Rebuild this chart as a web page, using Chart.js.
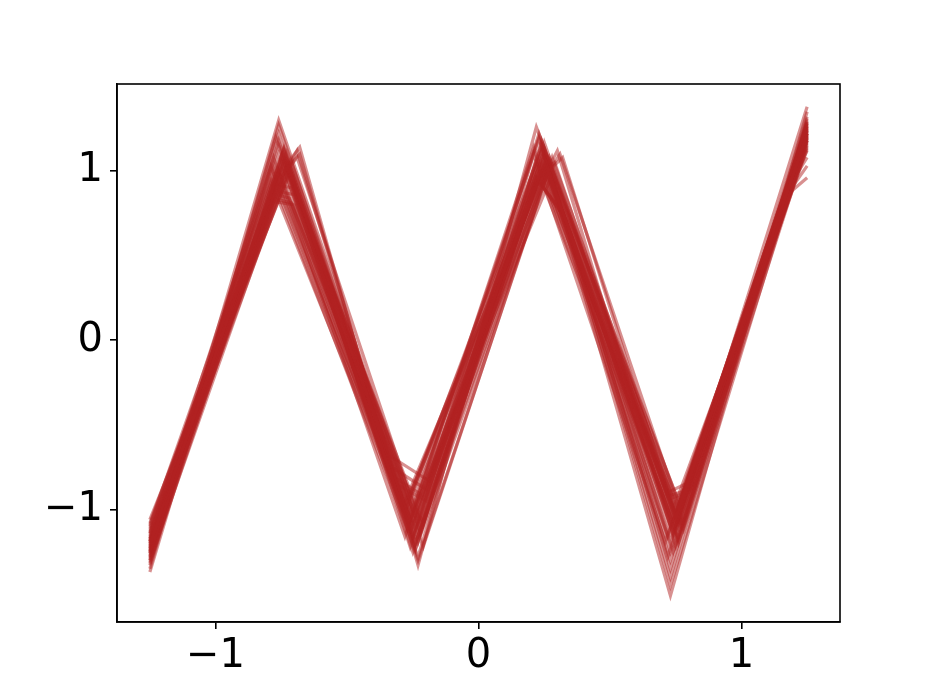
<!DOCTYPE html>
<html>
<head>
<meta charset="utf-8">
<script src="https://cdn.jsdelivr.net/npm/chart.js@4/dist/chart.umd.min.js"></script>
<style>
  html, body { margin: 0; padding: 0; background: #fff; }
  #wrap { width: 934px; height: 700px; position: relative; }
</style>
</head>
<body>
<div id="wrap"><canvas id="chart"></canvas></div>
<script>
// tick positions
const xTicks = [-1, 0, 1];
const yTicks = [-1, 0, 1];

// each curve is a piecewise linear path; knots (null = no knot)
const startX = -1.25;
const startY = [-1.21, -1.18, -1.25, -1.30, -1.15, -1.22, -1.10, -1.28, -1.35, -1.19, -1.24, -1.12, -1.27, -1.20, -1.32, -1.16,
                -1.23, -1.06, -1.29, -1.14, -1.26, -1.21, -1.37, -1.17, -1.25, -1.11, -1.31, -1.19, -1.22, -1.08, -1.28, -1.24,
                -1.18, -1.26, -1.13, -1.33, -1.20, -1.09, -1.23, -1.17, -1.30, -1.14, -1.25, -1.19];

const peak1X = [-0.75, -0.76, -0.74, -0.76, -0.72, -0.77, -0.74, -0.76, -0.76, -0.75, -0.78, -0.73, -0.76, -0.74, -0.77, -0.79,
                -0.76, -0.72, -0.77, -0.74, -0.75, -0.78, -0.76, -0.75, -0.73, -0.76, -0.75, -0.77, -0.71, -0.76, -0.74, -0.78,
                -0.73, -0.78, -0.72, -0.77, -0.74, -0.79, -0.73, -0.76, -0.72, -0.78, -0.74, -0.73];
const peak1Y = [1.05, 1.10, 0.98, 1.30, 1.02, 0.88, 1.08, 1.22, 1.27, 1.00, 0.84, 1.06, 0.95, 1.12, 0.90, 1.03,
                1.15, 0.98, 0.86, 1.07, 1.01, 0.82, 1.18, 0.96, 1.04, 1.00, 1.09, 0.92, 1.05, 0.97, 1.13, 1.02,
                1.03, 1.08, 0.99, 1.20, 1.06, 0.94, 1.11, 1.00, 1.04, 0.97, 1.14, 1.01];
const shoulder1X = [null, null, -0.69, null, null, -0.70, null, null, null, -0.68, -0.71, null, null, null, null, null,
                    null, null, -0.72, null, null, -0.70, null, -0.69, null, null, null, -0.71, null, -0.68, null, null,
                    null, null, null, null, null, null, null, null, null, null, null, null];
const shoulder1Y = [null, null, 1.12, null, null, 0.86, null, null, null, 1.14, 0.81, null, null, null, null, null,
                    null, null, 0.84, null, null, 0.80, null, 1.08, null, null, null, 0.90, null, 1.10, null, null,
                    null, null, null, null, null, null, null, null, null, null, null, null];

const trough1X = [-0.25, -0.26, -0.24, -0.25, -0.28, -0.25, -0.22, -0.26, -0.25, -0.23, -0.25, -0.27, -0.24, -0.25, -0.23, -0.28,
                  -0.26, -0.22, -0.33, -0.24, -0.25, -0.33, -0.25, -0.26, -0.24, -0.27, -0.23, -0.25, -0.31, -0.24, -0.25, -0.33,
                  -0.22, -0.28, -0.24, -0.21, -0.27, -0.29, -0.23, -0.26, -0.22, -0.28, -0.24, -0.21];
const trough1Y = [-1.05, -1.12, -1.20, -1.00, -0.98, -1.15, -1.08, -1.22, -1.03, -1.33, -1.10, -0.95, -1.18, -1.25, -1.28, -1.02,
                  -1.07, -1.14, -0.69, -1.20, -1.09, -0.75, -1.16, -0.92, -1.12, -1.05, -1.30, -1.18, -0.85, -1.23, -1.10, -0.80,
                  -1.08, -1.16, -1.04, -1.22, -1.11, -0.99, -1.19, -1.06, -1.13, -1.02, -1.24, -1.09];
const shoulder2X = [null, null, null, null, null, null, null, null, null, null, null, null, null, null, null, null,
                    null, null, -0.19, null, null, -0.20, null, null, null, null, null, null, -0.20, null, null, -0.21,
                    null, null, null, null, null, null, null, null, null, null, null, null];
const shoulder2Y = [null, null, null, null, null, null, null, null, null, null, null, null, null, null, null, null,
                    null, null, -0.83, null, null, -0.88, null, null, null, null, null, null, -0.95, null, null, -0.92,
                    null, null, null, null, null, null, null, null, null, null, null, null];

const peak2X = [0.25, 0.24, 0.26, 0.23, 0.25, 0.22, 0.27, 0.24, 0.25, 0.22, 0.26, 0.25, 0.23, 0.25, 0.24, 0.26,
                0.22, 0.25, 0.24, 0.25, 0.26, 0.23, 0.24, 0.25, 0.22, 0.25, 0.27, 0.24, 0.25, 0.23, 0.26, 0.25,
                0.27, 0.21, 0.24, 0.28, 0.23, 0.26, 0.21, 0.28, 0.24, 0.22, 0.27, 0.25];
const peak2Y = [1.05, 1.12, 0.98, 1.20, 1.02, 0.96, 1.08, 1.15, 1.03, 1.26, 1.00, 1.10, 0.97, 1.07, 1.18, 1.01,
                0.95, 1.09, 1.04, 1.13, 0.99, 1.22, 1.06, 1.00, 0.96, 1.11, 1.02, 1.16, 1.04, 0.98, 1.08, 1.03,
                1.06, 1.14, 1.00, 1.08, 1.19, 1.03, 1.10, 0.98, 1.12, 1.05, 1.01, 1.17];
const shoulder3X = [null, null, 0.31, null, null, 0.33, null, null, null, null, 0.30, null, 0.29, null, null, null,
                    0.32, null, null, null, 0.32, null, null, null, 0.34, null, null, null, null, null, null, null,
                    null, null, null, null, null, null, null, null, null, null, null, null];
const shoulder3Y = [null, null, 1.10, null, null, 0.72, null, null, null, null, 1.12, null, 1.05, null, null, null,
                    0.76, null, null, null, 1.08, null, null, null, 0.70, null, null, null, null, null, null, null,
                    null, null, null, null, null, null, null, null, null, null, null, null];

const trough2X = [0.75, 0.74, 0.76, 0.73, 0.75, 0.76, 0.74, 0.73, 0.75, 0.76, 0.74, 0.73, 0.75, 0.76, 0.72, 0.75,
                  0.74, 0.76, 0.75, 0.73, 0.75, 0.74, 0.76, 0.72, 0.75, 0.74, 0.73, 0.76, 0.75, 0.74, 0.73, 0.75,
                  0.77, 0.72, 0.75, 0.78, 0.73, 0.76, 0.71, 0.77, 0.74, 0.78, 0.72, 0.76];
const trough2Y = [-1.05, -1.12, -0.98, -1.51, -1.08, -1.18, -1.00, -1.40, -1.10, -0.95, -1.15, -1.30, -1.06, -1.20, -0.90, -1.02,
                  -1.14, -1.08, -1.22, -1.35, -1.04, -0.93, -1.17, -0.92, -1.09, -1.25, -1.45, -1.00, -1.13, -1.07, -1.19, -1.03,
                  -1.10, -1.16, -1.03, -1.12, -1.25, -1.06, -1.19, -0.99, -1.14, -1.08, -1.28, -1.11];
const shoulder4X = [null, null, null, null, null, null, null, null, null, null, null, null, null, null, 0.80, null,
                    null, null, null, null, null, 0.80, null, 0.81, null, null, null, null, null, null, null, null,
                    null, null, null, null, null, null, null, null, null, null, null, null];
const shoulder4Y = [null, null, null, null, null, null, null, null, null, null, null, null, null, null, -0.84, null,
                    null, null, null, null, null, -0.90, null, -0.88, null, null, null, null, null, null, null, null,
                    null, null, null, null, null, null, null, null, null, null, null, null];

const bendX = [null, null, null, null, null, null, 1.19, null, null, null, null, 1.21, null, null, null, null,
               null, 1.20, null, null, null, null, null, null, 1.20, null, null, null, null, null, null, null,
               null, null, null, null, null, null, null, null, null, null, null, null];
const bendY = [null, null, null, null, null, null, 0.88, null, null, null, null, 0.98, null, null, null, null,
               null, 0.92, null, null, null, null, null, null, 0.95, null, null, null, null, null, null, null,
               null, null, null, null, null, null, null, null, null, null, null, null];

const endX = 1.25;
const endY = [1.22, 1.28, 1.15, 1.35, 1.18, 1.25, 0.96, 1.30, 1.38, 1.20, 1.24, 1.08, 1.27, 1.21, 1.13, 1.26,
              1.19, 1.03, 1.29, 1.23, 1.17, 1.32, 1.22, 1.25, 1.12, 1.28, 1.20, 1.24, 1.18, 1.26, 1.22, 1.21,
              1.24, 1.19, 1.27, 1.16, 1.31, 1.22, 1.14, 1.26, 1.20, 1.29, 1.23, 1.18];

const lineColor = 'rgba(178, 34, 34, 0.5)';

function buildCurve(i) {
  const knots = [
    [startX, startY[i]],
    [peak1X[i], peak1Y[i]],
    [shoulder1X[i], shoulder1Y[i]],
    [trough1X[i], trough1Y[i]],
    [shoulder2X[i], shoulder2Y[i]],
    [peak2X[i], peak2Y[i]],
    [shoulder3X[i], shoulder3Y[i]],
    [trough2X[i], trough2Y[i]],
    [shoulder4X[i], shoulder4Y[i]],
    [bendX[i], bendY[i]],
    [endX, endY[i]]
  ];
  return knots.filter(k => k[0] !== null).map(k => ({ x: k[0], y: k[1] }));
}

const datasets = startY.map((_, i) => ({
  data: buildCurve(i),
  showLine: true,
  borderColor: lineColor,
  borderWidth: 3.2,
  pointRadius: 0,
  tension: 0,
  fill: false
}));

// draws the top and right spines too
const frame = {
  id: 'frame',
  afterDraw(chart) {
    const { ctx, chartArea: a } = chart;
    ctx.save();
    ctx.strokeStyle = '#000';
    ctx.lineWidth = 1.6;
    ctx.strokeRect(a.left, a.top, a.right - a.left, a.bottom - a.top);
    ctx.restore();
  }
};

const tickFont = { family: 'DejaVu Sans', size: 40 };
const fmt = v => (v < 0 ? '\u2212' + Math.abs(v) : String(v));

new Chart(document.getElementById('chart'), {
  type: 'scatter',
  data: { datasets },
  options: {
    responsive: true,
    maintainAspectRatio: false,
    animation: false,
    devicePixelRatio: 1,
    layout: { padding: { top: 84, right: 94, left: 0, bottom: 0 } },
    plugins: { legend: { display: false }, tooltip: { enabled: false } },
    scales: {
      x: {
        type: 'linear',
        min: -1.375,
        max: 1.375,
        afterBuildTicks: s => { s.ticks = xTicks.map(v => ({ value: v })); },
        afterFit: s => { s.height = 78; },
        grid: { display: true, drawOnChartArea: false, drawTicks: true, tickLength: 7, color: '#000', lineWidth: 1.6 },
        border: { display: true, color: '#000', width: 1.6 },
        ticks: { color: '#000', font: tickFont, padding: 4, maxRotation: 0, callback: fmt }
      },
      y: {
        type: 'linear',
        min: -1.665,
        max: 1.514,
        afterBuildTicks: s => { s.ticks = yTicks.map(v => ({ value: v })); },
        afterFit: s => { s.width = 117; },
        grid: { display: true, drawOnChartArea: false, drawTicks: true, tickLength: 7, color: '#000', lineWidth: 1.6 },
        border: { display: true, color: '#000', width: 1.6 },
        ticks: { color: '#000', font: tickFont, padding: 7, callback: fmt }
      }
    }
  },
  plugins: [frame]
});
</script>
</body>
</html>
